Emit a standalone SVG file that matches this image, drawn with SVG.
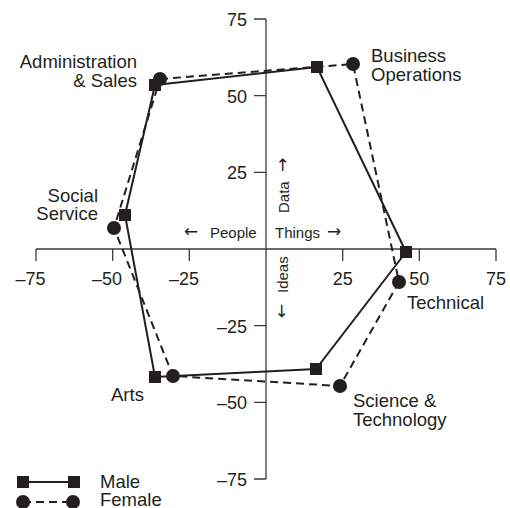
<svg xmlns="http://www.w3.org/2000/svg" width="510" height="508" viewBox="0 0 510 508">
<style>
.ax{stroke:#3a3a3a;stroke-width:1.3;fill:none}
.lbl{font-family:"Liberation Sans",Arial,sans-serif;font-size:18.5px;fill:#231f20}
.tk{font-family:"Liberation Sans",Arial,sans-serif;font-size:18px;fill:#231f20}
.dir{font-family:"Liberation Sans",Arial,sans-serif;font-size:15px;fill:#231f20}
.arr{font-family:"DejaVu Sans",sans-serif;font-size:17px;fill:#231f20}
.male{stroke:#231f20;stroke-width:2;fill:none}
.female{stroke:#231f20;stroke-width:2;fill:none;stroke-dasharray:8,5}
.sq{fill:#231f20}
.dot{fill:#231f20}
</style>
<defs>
<rect id="sq" x="-6" y="-6" width="12" height="12" class="sq"/>
<circle id="dot" r="7" class="dot"/>
</defs>
<rect width="510" height="508" fill="#fff"/>
<g id="axes">
<line class="ax" x1="36" y1="249" x2="496" y2="249"/>
<line class="ax" x1="266" y1="19" x2="266" y2="479"/>
<path class="ax" d="M36 249V261M112.7 249V261M189.3 249V261M342.7 249V261M419.3 249V261M496 249V261"/>
<path class="ax" d="M254 19H266M254 95.7H266M254 172.3H266M254 325.7H266M254 402.3H266M254 479H266"/>
<g class="tk">
<text x="45.5" y="285" text-anchor="end">–75</text>
<text x="122" y="285" text-anchor="end">–50</text>
<text x="199" y="285" text-anchor="end">–25</text>
<text x="342.7" y="285" text-anchor="middle">25</text>
<text x="419.3" y="285" text-anchor="middle">50</text>
<text x="496" y="285" text-anchor="middle">75</text>
<text x="247" y="26" text-anchor="end">75</text>
<text x="247" y="102.5" text-anchor="end">50</text>
<text x="247" y="179" text-anchor="end">25</text>
<text x="247" y="332.5" text-anchor="end">–25</text>
<text x="247" y="409" text-anchor="end">–50</text>
<text x="247" y="486" text-anchor="end">–75</text>
</g>
<g id="directions">
<text class="arr" x="184" y="237">←</text>
<text class="dir" x="210" y="238">People</text>
<text class="dir" x="275" y="238">Things</text>
<text class="arr" x="327" y="237">→</text>
<g transform="translate(289,213) rotate(-90)">
<text class="dir" x="0" y="0">Data</text>
<text class="arr" x="41" y="-1">→</text>
</g>
<g transform="translate(288,318) rotate(-90)">
<text class="arr" x="0" y="-1">←</text>
<text class="dir" x="25" y="0">Ideas</text>
</g>
</g>
</g>
<g id="connectors">
<polygon id="male-line" class="male" points="155,85 317,67 406,252 316,369 155,377 125,215"/>
<polygon id="female-line" class="female" points="160,79 353,64 399,282 340,386 173,376 114,228"/>
</g>
<g id="admin-sales">
<use href="#sq" x="155" y="85"/>
<use href="#dot" x="160" y="79"/>
<text class="lbl" x="137" y="68" text-anchor="end">Administration</text>
<text class="lbl" x="137" y="87" text-anchor="end">&amp; Sales</text>
</g>
<g id="business-operations">
<use href="#sq" x="317" y="67"/>
<use href="#dot" x="353" y="64"/>
<text class="lbl" x="371" y="62">Business</text>
<text class="lbl" x="371" y="81">Operations</text>
</g>
<g id="technical">
<use href="#sq" x="406" y="252"/>
<use href="#dot" x="399" y="282"/>
<text class="lbl" x="407" y="309">Technical</text>
</g>
<g id="science-technology">
<use href="#sq" x="316" y="369"/>
<use href="#dot" x="340" y="386"/>
<text class="lbl" x="353" y="407">Science &amp;</text>
<text class="lbl" x="353" y="426">Technology</text>
</g>
<g id="arts">
<use href="#sq" x="155" y="377"/>
<use href="#dot" x="173" y="376"/>
<text class="lbl" x="111" y="401">Arts</text>
</g>
<g id="social-service">
<use href="#sq" x="125" y="215"/>
<use href="#dot" x="114" y="228"/>
<text class="lbl" x="98" y="202" text-anchor="end">Social</text>
<text class="lbl" x="98" y="220" text-anchor="end">Service</text>
</g>
<g id="legend">
<line class="male" x1="23" y1="482" x2="74" y2="482"/>
<use href="#sq" x="23" y="482"/>
<use href="#sq" x="74" y="482"/>
<line class="female" x1="23" y1="502" x2="73" y2="502"/>
<use href="#dot" x="23" y="502"/>
<use href="#dot" x="73" y="502"/>
<text class="lbl" x="100" y="488">Male</text>
<text class="lbl" x="100" y="506">Female</text>
</g>
</svg>
